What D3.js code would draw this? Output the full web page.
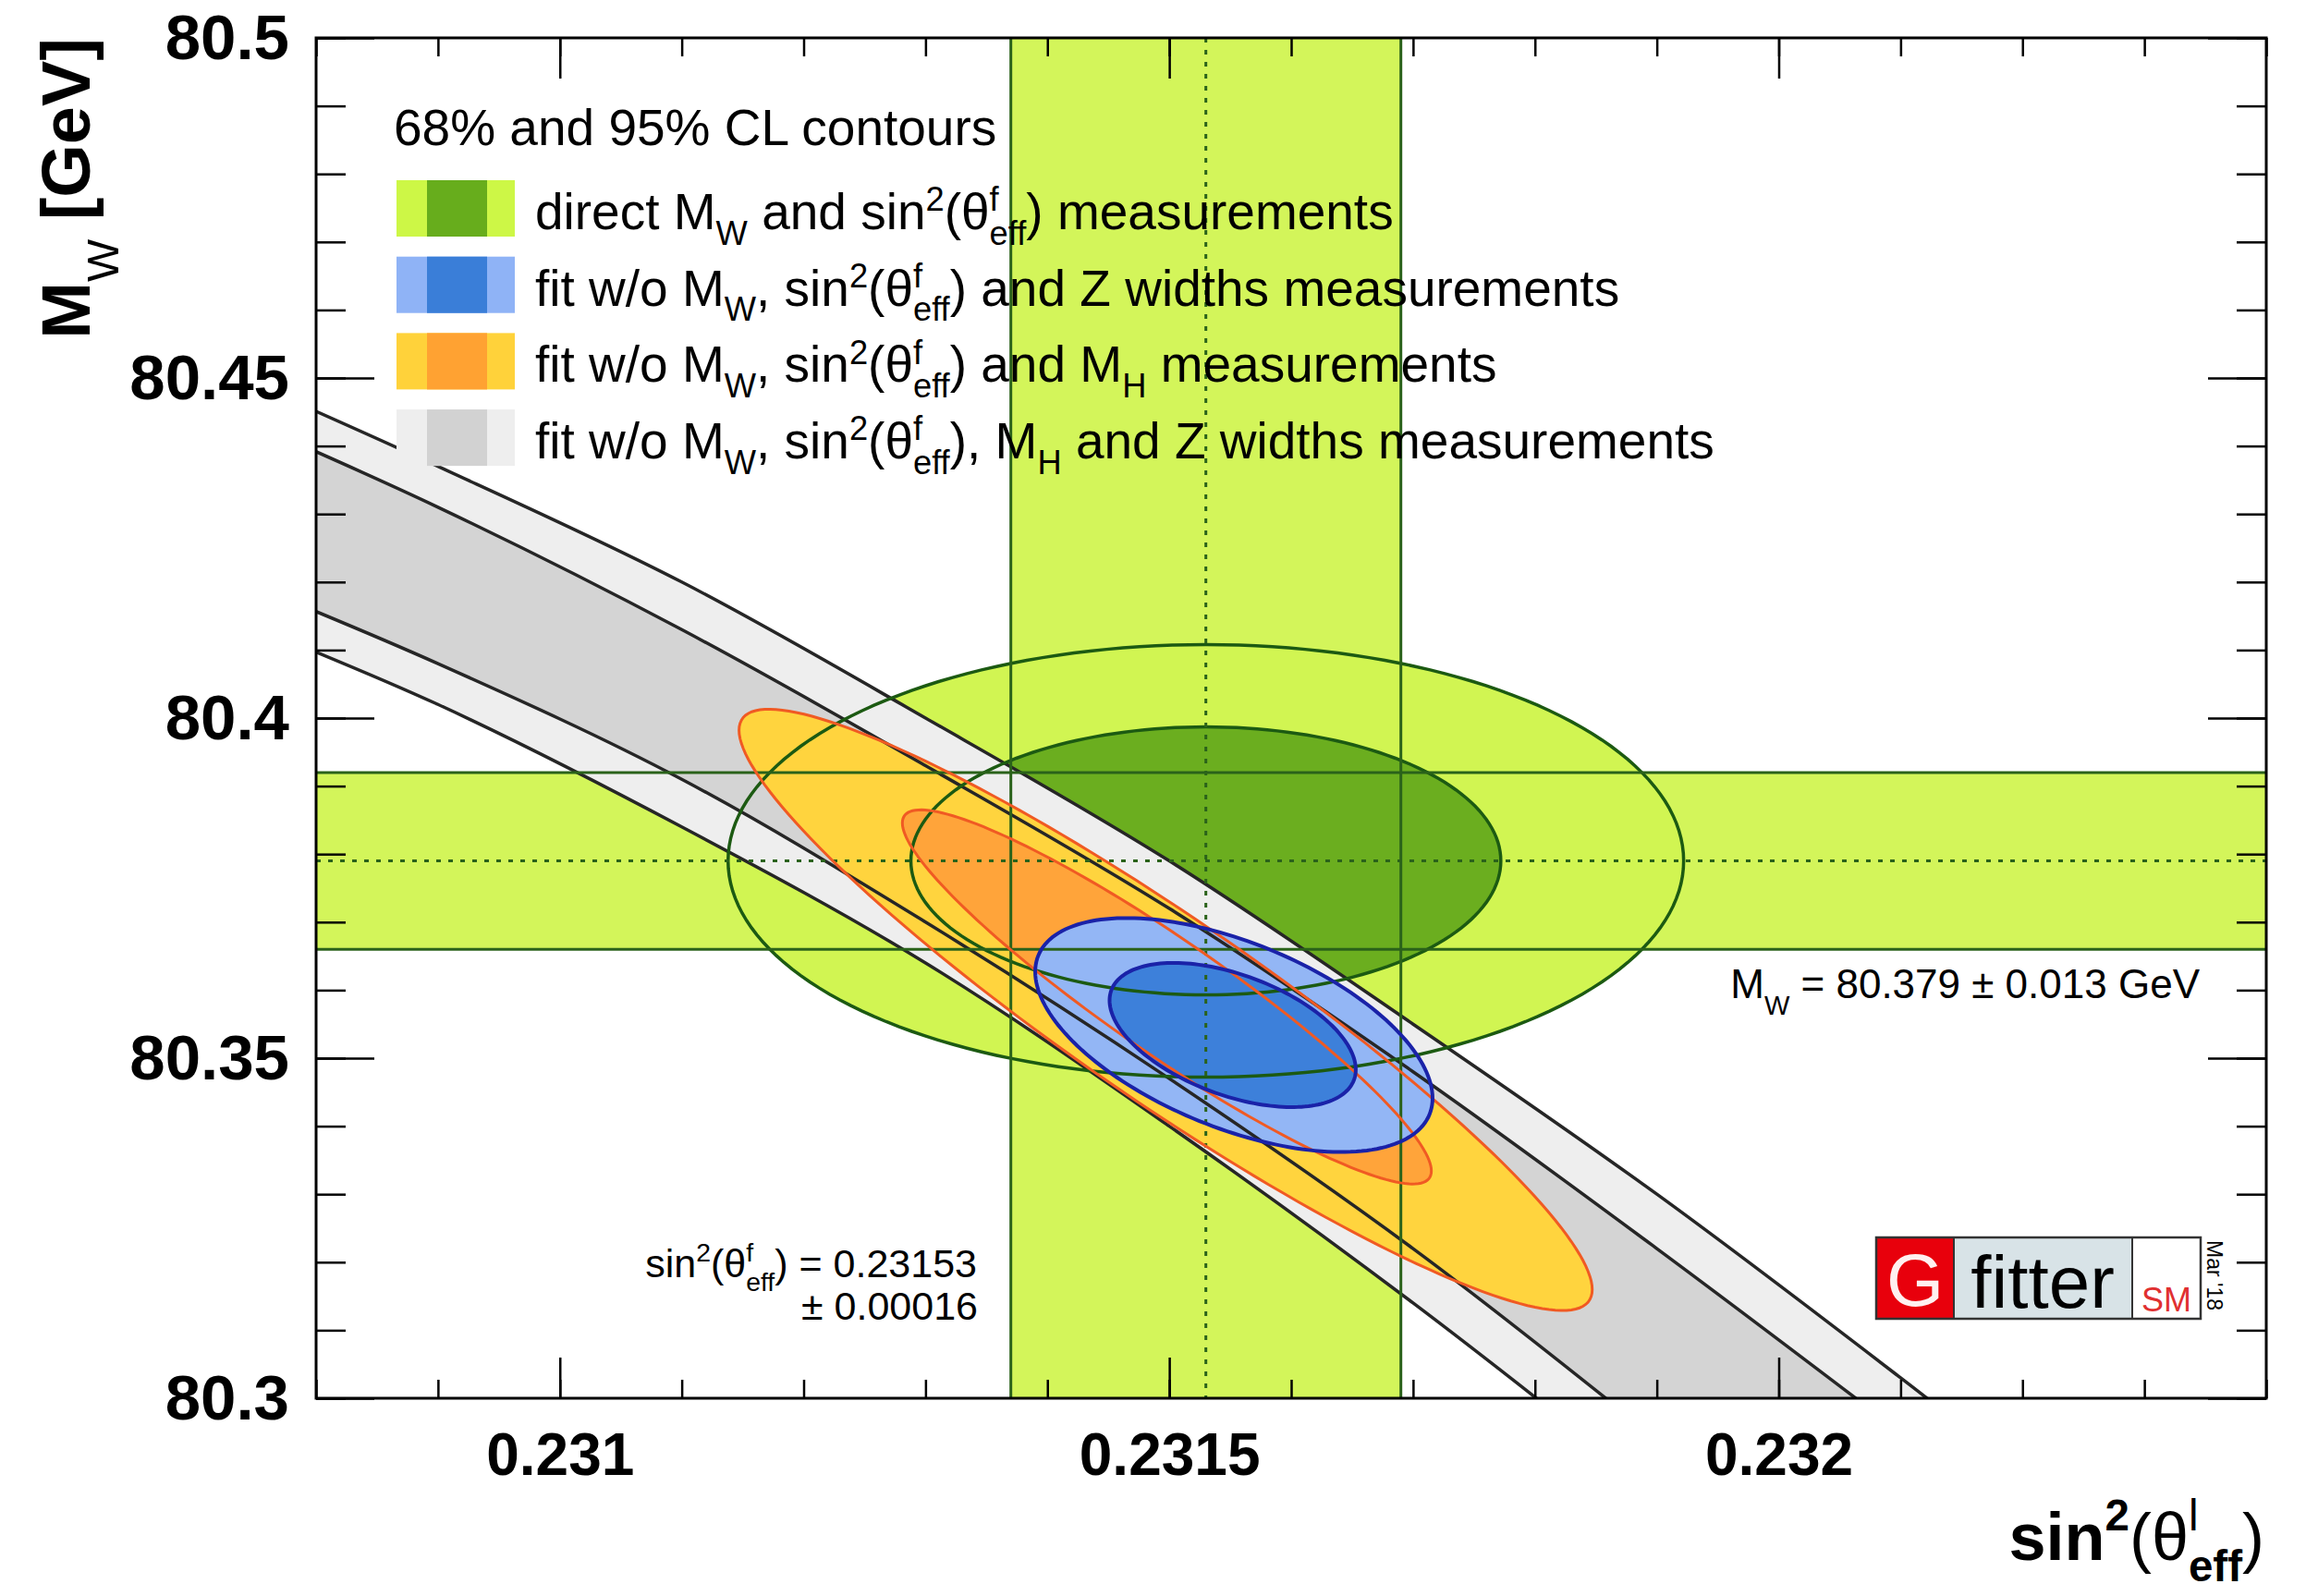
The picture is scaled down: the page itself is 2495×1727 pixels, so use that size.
<!DOCTYPE html>
<html>
<head>
<meta charset="UTF-8">
<title>M_W vs sin2(theta_eff)</title>
<script src="https://cdn.jsdelivr.net/npm/d3@7"></script>
<style>
  body { margin: 0; background: #fff; }
  svg { display: block; }
  text { font-family: "Liberation Sans", Arial, Helvetica, sans-serif; }
</style>
</head>
<body>
<svg id="chart" width="2495" height="1727"></svg>
<script>
// axis ranges and labelled ticks
var xDomain = [0.2308, 0.2324];
var yDomain = [80.3, 80.5];
var xMajor = [0.231, 0.2315, 0.232];
var yMajor = [80.3, 80.35, 80.4, 80.45, 80.5];

// direct measurements [value, error]
var mwDirect = [80.379, 0.013];
var s2Direct = [0.23153, 0.00016];

// CL contours: [centre x, centre y, half width x, half height y, correlation]  (95% first, then 68%)
var directCL = [[0.23153, 80.379, 0.000392, 0.0318, 0], [0.23153, 80.379, 0.000242, 0.0197, 0]];
var noMhCL   = [[0.231497, 80.3571, 0.000350, 0.0442, -0.93], [0.231498, 80.3590, 0.000217, 0.0275, -0.93]];
var noZwCL   = [[0.231553, 80.3534, 0.000163, 0.0172, -0.54], [0.231552, 80.3534, 0.000101, 0.0106, -0.48]];

// edges of the band from the fit w/o M_W, sin2, M_H and Z widths
var bandOuterUp = [[0.2307, 80.453], [0.2309, 80.437], [0.2311, 80.420], [0.2313, 80.400], [0.2315, 80.379],
                   [0.2317, 80.355], [0.2319, 80.330], [0.2321, 80.303], [0.2322, 80.289]];
var bandInnerUp = [[0.2307, 80.447], [0.2309, 80.431], [0.2311, 80.413], [0.2313, 80.393], [0.2315, 80.372],
                   [0.2317, 80.348], [0.2319, 80.322], [0.2321, 80.295]];
var bandInnerLo = [[0.2307, 80.423], [0.2309, 80.408], [0.2311, 80.391], [0.2313, 80.370], [0.2315, 80.347],
                   [0.2317, 80.322], [0.2319, 80.294]];
var bandOuterLo = [[0.2307, 80.417], [0.2309, 80.402], [0.2311, 80.384], [0.2313, 80.364], [0.2315, 80.340],
                   [0.2317, 80.314], [0.2319, 80.286]];

var legendTitle = "68% and 95% CL contours";

//////////////////////////////////////////////////////////////////////
var pL = 342, pT = 41, pW = 2110, pH = 1472;
var svg = d3.select("#chart");

var x = d3.scaleLinear().domain(xDomain).range([pL, pL + pW]);
var y = d3.scaleLinear().domain(yDomain).range([pT + pH, pT]);

svg.append("clipPath").attr("id", "frame")
   .append("rect").attr("x", pL).attr("y", pT).attr("width", pW).attr("height", pH);

var plot = svg.append("g").attr("clip-path", "url(#frame)");

var curveLine = d3.line().x(function (d) { return x(d[0]); }).y(function (d) { return y(d[1]); })
                  .curve(d3.curveCatmullRom);
var ringLine = d3.line().x(function (d) { return x(d[0]); }).y(function (d) { return y(d[1]); })
                 .curve(d3.curveLinearClosed);

function ellipse(c) {
  var s = Math.sqrt(1 - c[4] * c[4]);
  return d3.range(0, 360, 2).map(function (a) {
    var t = a * Math.PI / 180;
    return [c[0] + c[2] * Math.cos(t), c[1] + c[3] * (c[4] * Math.cos(t) + s * Math.sin(t))];
  });
}
function strip(up, lo) {
  return curveLine(up) + curveLine(lo.slice().reverse()).replace(/^M/, "L") + "Z";
}

// measurement bands
plot.append("rect").attr("x", pL).attr("width", pW)
    .attr("y", y(mwDirect[0] + mwDirect[1])).attr("height", y(mwDirect[0] - mwDirect[1]) - y(mwDirect[0] + mwDirect[1]))
    .style("fill", "#d3f55a");
plot.append("rect").attr("y", pT).attr("height", pH)
    .attr("x", x(s2Direct[0] - s2Direct[1])).attr("width", x(s2Direct[0] + s2Direct[1]) - x(s2Direct[0] - s2Direct[1]))
    .style("fill", "#d3f55a");

// fills
plot.append("path").attr("d", ringLine(ellipse(directCL[0]))).style("fill", "#d1f552");
plot.append("path").attr("d", ringLine(ellipse(directCL[1]))).style("fill", "#6bae1f");
plot.append("path").attr("d", strip(bandOuterUp, bandOuterLo)).style("fill", "#eeeeee");
plot.append("path").attr("d", strip(bandInnerUp, bandInnerLo)).style("fill", "#d4d4d4");
plot.append("path").attr("d", ringLine(ellipse(noMhCL[0]))).style("fill", "#ffd43e");
plot.append("path").attr("d", ringLine(ellipse(noMhCL[1]))).style("fill", "#ffa43a");
plot.append("path").attr("d", ringLine(ellipse(noZwCL[0]))).style("fill", "#93b6f5");
plot.append("path").attr("d", ringLine(ellipse(noZwCL[1]))).style("fill", "#3d80da");

// outlines
[bandOuterUp, bandInnerUp, bandInnerLo, bandOuterLo].forEach(function (b) {
  plot.append("path").attr("d", curveLine(b)).style("fill", "none").style("stroke", "#262626").style("stroke-width", 3.5);
});
directCL.forEach(function (c) {
  plot.append("path").attr("d", ringLine(ellipse(c))).style("fill", "none").style("stroke", "#1c5a12").style("stroke-width", 3.5);
});
[mwDirect[0] + mwDirect[1], mwDirect[0] - mwDirect[1]].forEach(function (v) {
  plot.append("line").attr("x1", pL).attr("x2", pL + pW).attr("y1", y(v)).attr("y2", y(v))
      .style("stroke", "#2a621a").style("stroke-width", 3);
});
[s2Direct[0] - s2Direct[1], s2Direct[0] + s2Direct[1]].forEach(function (v) {
  plot.append("line").attr("y1", pT).attr("y2", pT + pH).attr("x1", x(v)).attr("x2", x(v))
      .style("stroke", "#2a621a").style("stroke-width", 3);
});
plot.append("line").attr("x1", pL).attr("x2", pL + pW).attr("y1", y(mwDirect[0])).attr("y2", y(mwDirect[0]))
    .style("stroke", "#2a621a").style("stroke-width", 3).style("stroke-dasharray", "5,8");
plot.append("line").attr("y1", pT).attr("y2", pT + pH).attr("x1", x(s2Direct[0])).attr("x2", x(s2Direct[0]))
    .style("stroke", "#2a621a").style("stroke-width", 3).style("stroke-dasharray", "5,8");
noMhCL.forEach(function (c) {
  plot.append("path").attr("d", ringLine(ellipse(c))).style("fill", "none").style("stroke", "#f05a23").style("stroke-width", 3);
});
noZwCL.forEach(function (c) {
  plot.append("path").attr("d", ringLine(ellipse(c))).style("fill", "none").style("stroke", "#1a22a8").style("stroke-width", 4);
});

// axes: ticks point inwards on all four sides
function styleAxis(size) {
  return function (g) {
    g.select(".domain").remove();
    g.selectAll("line").style("stroke", "#000").style("stroke-width", 2.5);
    g.selectAll("text").style("font-family", "'Liberation Sans', Arial, sans-serif")
     .style("font-size", size + "px").style("font-weight", "bold").style("fill", "#000");
  };
}
svg.append("g").attr("transform", "translate(0," + (pT + pH) + ")")
   .call(d3.axisBottom(x).tickValues(x.ticks(16)).tickSize(-20).tickFormat("")).call(styleAxis(64));
svg.append("g").attr("transform", "translate(0," + (pT + pH) + ")")
   .call(d3.axisBottom(x).tickValues(xMajor).tickSize(-44).tickPadding(38).tickFormat(d3.format("~g"))).call(styleAxis(64));
svg.append("g").attr("transform", "translate(0," + pT + ")")
   .call(d3.axisTop(x).tickValues(x.ticks(16)).tickSize(-20).tickFormat("")).call(styleAxis(64));
svg.append("g").attr("transform", "translate(0," + pT + ")")
   .call(d3.axisTop(x).tickValues(xMajor).tickSize(-44).tickFormat("")).call(styleAxis(64));
svg.append("g").attr("transform", "translate(" + pL + ",0)")
   .call(d3.axisLeft(y).tickValues(y.ticks(20)).tickSize(-32).tickFormat("")).call(styleAxis(69));
svg.append("g").attr("transform", "translate(" + pL + ",0)")
   .call(d3.axisLeft(y).tickValues(yMajor).tickSize(-63).tickPadding(29).tickFormat(d3.format("~g"))).call(styleAxis(69));
svg.append("g").attr("transform", "translate(" + (pL + pW) + ",0)")
   .call(d3.axisRight(y).tickValues(y.ticks(20)).tickSize(-32).tickFormat("")).call(styleAxis(69));
svg.append("g").attr("transform", "translate(" + (pL + pW) + ",0)")
   .call(d3.axisRight(y).tickValues(yMajor).tickSize(-63).tickFormat("")).call(styleAxis(69));

svg.append("rect").attr("x", pL).attr("y", pT).attr("width", pW).attr("height", pH)
   .style("fill", "none").style("stroke", "#000").style("stroke-width", 3);

// text with ROOT-like sub/superscripts. parts: [text, mode, weight]
function rich(g, px, py, parts, size, anchor, weight, subDrop, supRise) {
  var t = g.append("text").attr("x", px).attr("y", py).attr("font-size", size)
           .attr("text-anchor", anchor || "start").attr("font-weight", weight || "normal").style("fill", "#000");
  var drop = subDrop || 0.42, rise = supRise || 0.45;
  var shift = 0, lastSup = null;
  parts.forEach(function (p) {
    var mode = p[1] || "n";
    var target = mode === "sup" ? -rise * size : (mode === "sub" || mode === "ssub") ? drop * size : 0;
    var ts = t.append("tspan").text(p[0]).attr("dy", target - shift);
    if (mode !== "n") ts.attr("font-size", size * 0.66);
    if (mode === "ssub" && lastSup) ts.attr("dx", -lastSup.node().getComputedTextLength());
    if (mode === "sup") lastSup = ts;
    if (p[2]) ts.attr("font-weight", p[2]);
    shift = target;
  });
  return t;
}

// axis titles
rich(svg, 2450, 1688, [["sin"], ["2", "sup"], ["(θ", "n", "normal"], ["l", "sup", "normal"], ["eff", "ssub"], [")", "n", "normal"]],
     72, "end", "bold", 0.32);
var yt = svg.append("g").attr("transform", "translate(97,41) rotate(-90)");
rich(yt, 0, 0, [["M"], ["W", "sub", "normal"], [" [GeV]"]], 74, "end", "bold");

// legend
var leg = svg.append("g");
leg.append("text").attr("x", 426).attr("y", 157).attr("font-size", 55).text(legendTitle);
var legendRows = [
  { light: "#cdf746", dark: "#67ad1c",
    parts: [["direct M"], ["W", "sub"], [" and sin"], ["2", "sup"], ["(θ"], ["f", "sup"], ["eff", "ssub"], [")  measurements"]] },
  { light: "#8fb3f6", dark: "#3a7ed8",
    parts: [["fit w/o M"], ["W", "sub"], [", sin"], ["2", "sup"], ["(θ"], ["f", "sup"], ["eff", "ssub"], [") and Z widths measurements"]] },
  { light: "#ffd23a", dark: "#ffa232",
    parts: [["fit w/o M"], ["W", "sub"], [", sin"], ["2", "sup"], ["(θ"], ["f", "sup"], ["eff", "ssub"], [") and M"], ["H", "sub"], ["  measurements"]] },
  { light: "#eeeeee", dark: "#d2d2d2",
    parts: [["fit w/o M"], ["W", "sub"], [", sin"], ["2", "sup"], ["(θ"], ["f", "sup"], ["eff", "ssub"], ["), M"], ["H", "sub"], [" and Z widths measurements"]] }
];
legendRows.forEach(function (r, i) {
  var y0 = 195 + i * 82.7;
  leg.append("rect").attr("x", 429).attr("y", y0).attr("width", 128).attr("height", 61).style("fill", r.light);
  leg.append("rect").attr("x", 462).attr("y", y0).attr("width", 65).attr("height", 61).style("fill", r.dark);
  rich(leg, 579, y0 + 53, r.parts, 55, "start", "normal", 0.3, 0.36);
});

// measurement annotations
rich(svg, 2380, 1080, [["M"], ["W", "sub"], [" = 80.379 ± 0.013 GeV"]], 44, "end");
rich(svg, 1057, 1382, [["sin"], ["2", "sup"], ["(θ"], ["f", "sup"], ["eff", "ssub"], [") = 0.23153"]], 43, "end", "normal", 0.34, 0.4);
svg.append("text").attr("x", 1058).attr("y", 1428).attr("font-size", 43).attr("text-anchor", "end").text("± 0.00016");

// Gfitter logo
var logo = svg.append("g").attr("transform", "translate(2030,1339)");
logo.append("rect").attr("width", 84).attr("height", 88).style("fill", "#e8000c");
logo.append("rect").attr("x", 84).attr("width", 193).attr("height", 88).style("fill", "#d8e3e7");
logo.append("rect").attr("x", 277).attr("width", 74).attr("height", 88).style("fill", "#ffffff");
logo.append("rect").attr("width", 351).attr("height", 88).style("fill", "none").style("stroke", "#333").style("stroke-width", 2.5);
logo.append("line").attr("x1", 84).attr("x2", 84).attr("y2", 88).style("stroke", "#333").style("stroke-width", 2);
logo.append("line").attr("x1", 277).attr("x2", 277).attr("y2", 88).style("stroke", "#333").style("stroke-width", 2);
logo.append("text").attr("x", 42).attr("y", 74).attr("text-anchor", "middle").attr("font-size", 80)
    .style("fill", "#fff0f0").text("G");
logo.append("text").attr("x", 180).attr("y", 76).attr("text-anchor", "middle").attr("font-size", 80).text("fitter");
logo.append("text").attr("x", 314).attr("y", 80).attr("text-anchor", "middle").attr("font-size", 36)
    .style("fill", "#e03030").text("SM");
svg.append("text").attr("transform", "translate(2388,1342) rotate(90)").attr("font-size", 23).text("Mar '18");
</script>
</body>
</html>
